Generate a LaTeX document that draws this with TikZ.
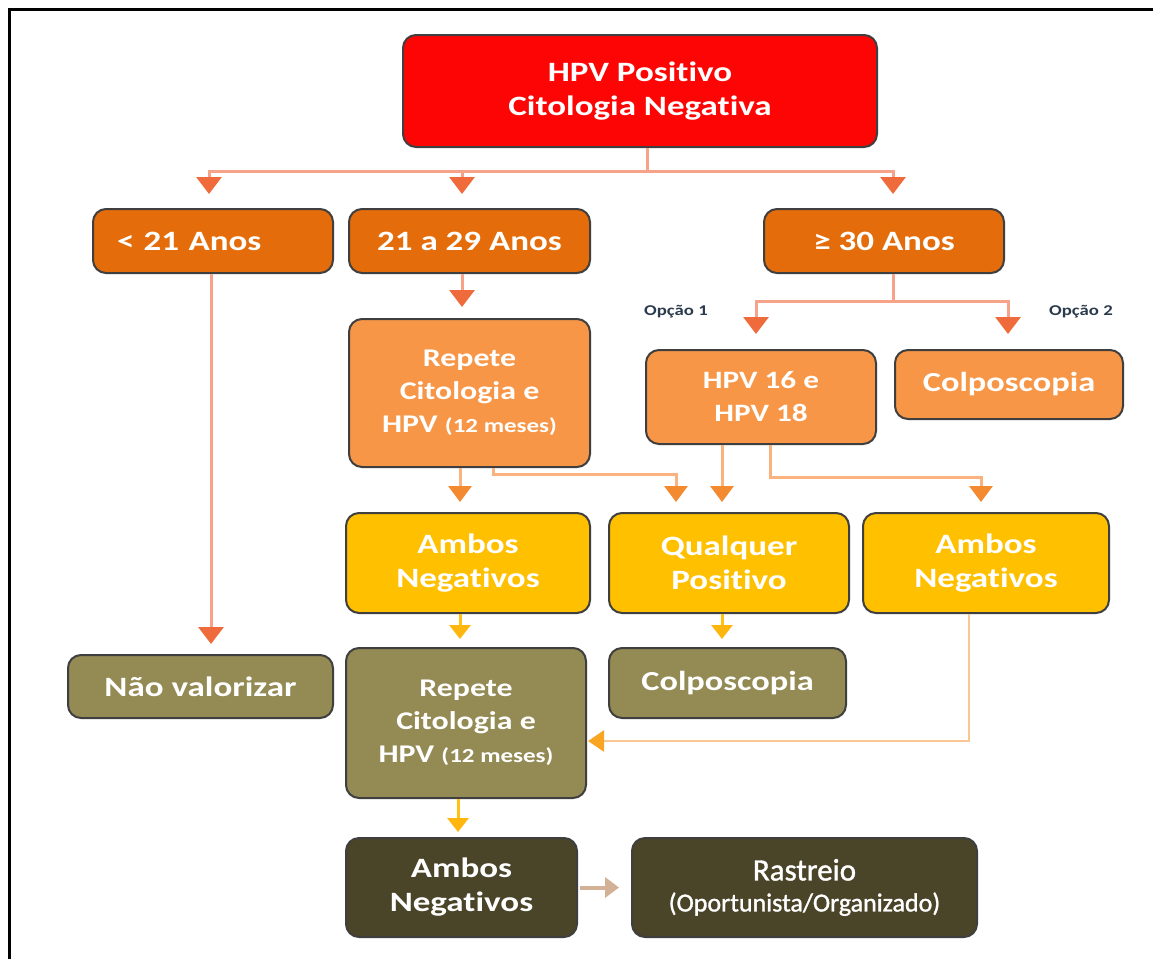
\documentclass[tikz,border=0pt]{standalone}
\usepackage{fontspec}
\setmainfont{Carlito}[FakeStretch=1.25, Ligatures={NoCommon}]
\newfontfamily\plainfont{Carlito}[FakeBold=1.2, Ligatures={NoCommon}]
\usetikzlibrary{arrows.meta,calc}

\definecolor{hpvred}{HTML}{FE0505}
\definecolor{dkorange}{HTML}{E46C0A}
\definecolor{ltorange}{HTML}{F79646}
\definecolor{yel}{HTML}{FFC000}
\definecolor{olive}{HTML}{948A54}
\definecolor{darkolive}{HTML}{4A4428}
\definecolor{boxline}{HTML}{3F3F3F}
\definecolor{lnA}{HTML}{F7A38A}
\definecolor{hdA}{HTML}{EF6B3B}
\definecolor{lnB}{HTML}{FAB27E}
\definecolor{hdB}{HTML}{F38A2F}
\definecolor{lnC}{HTML}{FFC20E}
\definecolor{hdC}{HTML}{FFB70F}
\definecolor{lnD}{HTML}{FBC691}
\definecolor{hdD}{HTML}{F8A523}
\definecolor{lnE}{HTML}{D3B196}
\definecolor{optext}{HTML}{2B3A4C}

\tikzset{
  box/.style={draw=boxline, line width=2pt, rounded corners=13pt, text=white,
    align=center, inner sep=0pt},
  big/.style={font=\fontsize{28}{34}\selectfont\bfseries},
  mid/.style={font=\fontsize{25.5}{33}\selectfont\bfseries},
  conn/.style={line width=3pt},
  lineA/.style={conn, draw=lnA},
  arrA/.style={conn, draw=lnA, -{Triangle[length=17pt,width=25pt,color=hdA]}},
  arrB/.style={conn, draw=lnB, -{Triangle[length=16pt,width=23pt,color=hdB]}},
  arrC/.style={conn, draw=lnC, -{Triangle[length=14pt,width=21pt,color=hdC]}},
  arrD/.style={line width=2.5pt, draw=lnD, -{Triangle[length=16pt,width=21pt,color=hdD]}},
  arrE/.style={line width=4pt, draw=lnE, -{Triangle[length=14pt,width=20pt,color=lnE]}},
  opt/.style={font=\fontsize{15}{18}\selectfont\bfseries, text=optext, inner sep=0pt},
}

\begin{document}
\begin{tikzpicture}[x=1pt,y=-1pt]
\useasboundingbox (0,0) rectangle (1153,959);
\fill[white] (0,0) rectangle (1153,959);

% frame
\draw[line width=3pt, black] (9,959) -- (9,9) -- (1153,9);

% boxes
\node[box, big, fill=hpvred, minimum width=474pt, minimum height=112pt] (top) at (640,91)
  {HPV Positivo\\Citologia Negativa};

\node[box, big, fill=dkorange, minimum width=240pt, minimum height=64pt,
  text width=192pt, align=left] (lt21) at (213,241) {< 21 Anos};
\node[box, big, fill=dkorange, minimum width=241pt, minimum height=64pt] (a2129) at (469.5,241) {21 a 29 Anos};
\node[box, big, fill=dkorange, minimum width=240pt, minimum height=64pt] (ge30) at (884,241) {≥ 30 Anos};

\node[box, mid, fill=ltorange, minimum width=241pt, minimum height=148pt] (rep1) at (469.5,393)
  {Repete\\Citologia e\\HPV {\fontsize{20}{24}\selectfont(12 meses)}};
\node[box, font=\fontsize{25}{33}\selectfont\bfseries, fill=ltorange, minimum width=230pt, minimum height=94pt] (hpv) at (761,397)
  {HPV 16 e\\HPV 18};
\node[box, font=\fontsize{27.5}{33}\selectfont\bfseries, fill=ltorange, minimum width=228pt, minimum height=69pt] (colpo1) at (1009,384.5)
  {Colposcopia};

\node[opt] (op1) at (676,312) {Opção 1};
\node[opt] (op2) at (1081,312) {Opção 2};

\node[box, big, fill=yel, minimum width=244pt, minimum height=100pt] (amb1) at (468,563) {Ambos\\Negativos};
\node[box, big, fill=yel, minimum width=240pt, minimum height=100pt] (qual) at (729,563) {Qualquer\\Positivo};
\node[box, big, fill=yel, minimum width=246pt, minimum height=100pt] (amb2) at (986,563) {Ambos\\Negativos};

\node[box, big, fill=olive, minimum width=265pt, minimum height=63pt] (naov) at (200.5,686.5) {Não valorizar};
\node[box, mid, fill=olive, minimum width=240pt, minimum height=150pt] (rep2) at (466,723)
  {Repete\\Citologia e\\HPV {\fontsize{20}{24}\selectfont(12 meses)}};
\node[box, font=\fontsize{27.5}{33}\selectfont\bfseries, fill=olive, minimum width=237pt, minimum height=70pt] (colpo2) at (727.5,683) {Colposcopia};

\node[box, big, fill=darkolive, minimum width=231pt, minimum height=99pt] (amb3) at (461.5,887.5) {Ambos\\Negativos};
\node[box, font=\plainfont\fontsize{26}{31}\selectfont, fill=darkolive, minimum width=345pt, minimum height=99pt] (rast) at (804.5,887.5)
  {{\fontsize{31}{31}\selectfont Rastreio}\\(Oportunista/Organizado)};

% first split
\coordinate (hub) at ($(top.south)+(7,23)$);
\draw[lineA] (top.south -| hub) -- (hub);
\draw[arrA, shorten >=14pt] (hub) -| ($(lt21.north)+(-4,0)$);
\draw[arrA, shorten >=14pt] (hub) -| ($(a2129.north)+(-7.5,0)$);
\draw[arrA, shorten >=14pt] (hub) -| ($(ge30.north)+(9,0)$);

% under 21
\coordinate (p1) at ($(lt21.south)+(-2,0)$);
\draw[arrA, shorten >=10pt] (p1) -- (p1 |- naov.north);

% 21 to 29
\coordinate (p2) at ($(a2129.south)+(-7.5,0)$);
\draw[arrA, shorten >=11pt] (p2) -- (p2 |- rep1.north);

% 30 and over
\coordinate (hub2) at ($(ge30.south)+(9,27)$);
\draw[lineA] (ge30.south -| hub2) -- (hub2);
\draw[arrA, shorten >=15pt] (hub2) -| ($(hpv.north)+(-5,0)$);
\draw[arrA, shorten >=15pt] (hub2) -| ($(colpo1.north)+(-1,0)$);

% results of first repeat and genotyping
\coordinate (p3) at ($(rep1.south)+(-9.5,0)$);
\draw[arrB, shorten >=10pt] (p3) -- (p3 |- amb1.north);
\draw[arrB, shorten >=10pt] ($(rep1.south)+(23.5,0)$) |- ($(qual.north)+(-53,-38)$) -- ($(qual.north)+(-53,0)$);
\coordinate (p4) at ($(hpv.south)+(-39,0)$);
\draw[arrB, shorten >=10pt] (p4) -- (p4 |- qual.north);
\draw[arrB, shorten >=10pt] ($(hpv.south)+(9,0)$) |- ($(amb2.north)+(-5,-35)$) -- ($(amb2.north)+(-5,0)$);

% third level
\coordinate (p5) at ($(amb1.south)+(-8,0)$);
\draw[arrC, shorten >=8pt] (p5) -- (p5 |- rep2.north);
\coordinate (p6) at ($(qual.south)+(-7,0)$);
\draw[arrC, shorten >=8pt] (p6) -- (p6 |- colpo2.north);
\draw[arrD, shorten >=1pt] ($(amb2.south)+(-17,0)$) |- ($(rep2.east)+(0,18)$);

% last level
\coordinate (p7) at ($(rep2.south)+(-8,0)$);
\draw[arrC, shorten >=5pt] (p7) -- (p7 |- amb3.north);
\draw[arrE, shorten <=2pt, shorten >=12pt] (amb3.east) -- (rast.west);
\end{tikzpicture}
\end{document}
